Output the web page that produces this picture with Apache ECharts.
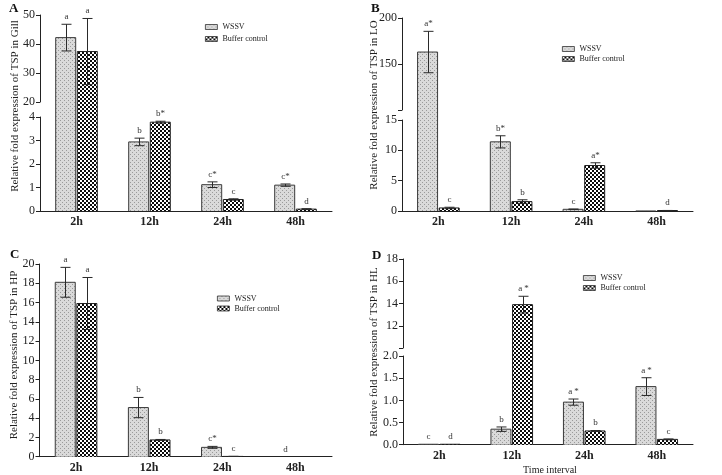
<!DOCTYPE html>
<html><head><meta charset="utf-8">
<script src="https://cdn.jsdelivr.net/npm/echarts@6/dist/echarts.min.js"></script>
<style>html,body{margin:0;padding:0;background:#fff}#c{width:722px;height:475px}</style>
</head><body><div id="c"></div>
<script>
// ---------------- data ----------------
const categories = ['2h', '12h', '24h', '48h'];
const seriesNames = ['WSSV', 'Buffer control'];

// A – Gill
const gillWSSV = [42.2, 2.94, 1.12, 1.10];
const gillWSSVErr = [4.6, 0.16, 0.12, 0.05];
const gillBuffer = [37.4, 3.78, 0.49, 0.08];
const gillBufferErr = [11.4, 0.04, 0.03, 0.02];
const gillWSSVSig = ['a', 'b', 'c*', 'c*'];
const gillBufferSig = ['a', 'b*', 'c', 'd'];

// B – LO
const loWSSV = [163, 11.4, 0.28, 0.01];
const loWSSVErr = [22.5, 1.0, 0.05, 0];
const loBuffer = [0.5, 1.55, 7.5, 0.08];
const loBufferErr = [0.12, 0.3, 0.45, 0.01];
const loWSSVSig = ['a*', 'b*', 'c', ''];
const loBufferSig = ['c', 'b', 'a*', 'd'];

// C – HP
const hpWSSV = [18.1, 5.1, 0.97, 0];
const hpWSSVErr = [1.55, 1.05, 0.1, 0];
const hpBuffer = [15.9, 1.74, 0.03, 0];
const hpBufferErr = [2.7, 0.05, 0.01, 0];
const hpWSSVSig = ['a', 'b', 'c*', 'd'];
const hpBufferSig = ['a', 'b', 'c', ''];

// D – HL
const hlWSSV = [0.01, 0.35, 0.96, 1.31];
const hlWSSVErr = [0, 0.05, 0.07, 0.2];
const hlBuffer = [0.01, 13.9, 0.31, 0.12];
const hlBufferErr = [0, 0.75, 0.01, 0.01];
const hlWSSVSig = ['c', 'b', 'a *', 'a *'];
const hlBufferSig = ['d', 'a *', 'b', 'c'];

// ---------------- style ----------------
const FONT = '"Liberation Serif", "Times New Roman", serif';
const INK = '#222';
const BAR_W = 20, BAR_GAP = 0.08;
const OFF = BAR_W * (1 + BAR_GAP) / 2;
const CAP = 5;

function makePattern(w, h, draw) {
  const c = document.createElement('canvas');
  c.width = w; c.height = h;
  draw(c.getContext('2d'));
  return { image: c, repeat: 'repeat' };
}
const wssvPattern = makePattern(4, 4, ctx => {
  ctx.fillStyle = '#dadada'; ctx.fillRect(0, 0, 4, 4);
  ctx.fillStyle = '#9a9a9a'; ctx.fillRect(0, 0, 1, 1); ctx.fillRect(2, 2, 1, 1);
});
const bufPattern = makePattern(4, 4, ctx => {
  ctx.fillStyle = '#0a0a0a'; ctx.fillRect(0, 0, 4, 4);
  ctx.fillStyle = '#ffffff'; ctx.fillRect(0, 0, 2, 2); ctx.fillRect(2, 2, 2, 2);
});

const option = { animation: false, grid: [], xAxis: [], yAxis: [], series: [], legend: [], graphic: [] };

// outline of the bars (drawn per grid so broken bars stay seamless), error bars and letters
function overlaySeries(g, vals, errs, sigs, off, outline) {
  return {
    type: 'custom', xAxisIndex: g, yAxisIndex: g, z: 5, silent: true,
    data: vals.map((v, i) => [i, v]),
    renderItem: function (params, api) {
      const i = params.dataIndex;
      const v = vals[i], e = errs[i], s = sigs[i];
      const cs = params.coordSys;
      const top = cs.y, bot = cs.y + cs.height;
      const c = api.coord([i, v]);
      const base = api.coord([i, 0])[1];
      const ch = [];
      const os = { stroke: outline, lineWidth: 1 };
      const xl = c[0] + off - BAR_W / 2, xr = xl + BAR_W;
      const a = Math.max(c[1], top), b = Math.min(base, bot);
      if (b > a) {
        ch.push({ type: 'line', shape: { x1: xl, y1: a, x2: xl, y2: b }, style: os });
        ch.push({ type: 'line', shape: { x1: xr, y1: a, x2: xr, y2: b }, style: os });
      }
      if (c[1] < top - 0.5 || c[1] > bot + 0.5) return { type: 'group', children: ch };
      if (v > 0) ch.push({ type: 'line', shape: { x1: xl, y1: c[1], x2: xr, y2: c[1] }, style: os });
      const x = Math.round(c[0] + off) + 0.5;
      const yt = api.coord([i, v + e])[1];
      const yb = api.coord([i, Math.max(v - e, 0)])[1];
      const ls = { stroke: '#2a2a2a', lineWidth: 1 };
      if (e > 0) {
        ch.push({ type: 'line', shape: { x1: x, y1: Math.max(yt, top), x2: x, y2: Math.min(yb, bot) }, style: ls });
        if (yt >= top) ch.push({ type: 'line', shape: { x1: x - CAP, y1: yt, x2: x + CAP, y2: yt }, style: ls });
        if (yb <= bot && v - e > 0) ch.push({ type: 'line', shape: { x1: x - CAP, y1: yb, x2: x + CAP, y2: yb }, style: ls });
      }
      if (s) {
        ch.push({ type: 'text', style: { text: s, x: x, y: Math.min(yt, c[1]) - 3, align: 'center', verticalAlign: 'bottom', font: '9px ' + FONT, fill: '#333' } });
      }
      return { type: 'group', children: ch };
    }
  };
}

function addSeries(g, p) {
  option.series.push({ type: 'bar', name: seriesNames[0], xAxisIndex: g, yAxisIndex: g, data: p.wssv, barWidth: BAR_W, barGap: (BAR_GAP * 100) + '%', itemStyle: { color: wssvPattern, borderColor: '#3a3a3a', borderWidth: 0 }, silent: true });
  option.series.push({ type: 'bar', name: seriesNames[1], xAxisIndex: g, yAxisIndex: g, data: p.buf, barWidth: BAR_W, barGap: (BAR_GAP * 100) + '%', itemStyle: { color: bufPattern, borderColor: '#222', borderWidth: 0 }, silent: true });
  option.series.push(overlaySeries(g, p.wssv, p.wssvErr, p.wssvSig, -OFF, '#3a3a3a'));
  option.series.push(overlaySeries(g, p.buf, p.bufErr, p.bufSig, OFF, '#222'));
}

function addPanel(p) {
  const segs = p.segs;
  segs.forEach((s, k) => {
    const last = k === segs.length - 1;
    const gi = option.grid.length;
    option.grid.push({ left: p.left, top: s.top, width: p.width, height: s.bottom - s.top });
    option.xAxis.push({
      gridIndex: gi, type: 'category', data: categories, show: last,
      axisLine: { lineStyle: { color: INK, width: 1 } }, axisTick: { show: false },
      axisLabel: { fontFamily: FONT, fontSize: 12, fontWeight: 'bold', color: INK, margin: 5 }
    });
    option.yAxis.push({
      gridIndex: gi, type: 'value', min: s.min, max: s.max, interval: s.interval,
      axisLine: { show: true, lineStyle: { color: INK, width: 1 } },
      axisTick: { show: true, length: 4, lineStyle: { color: INK } },
      splitLine: { show: false },
      axisLabel: { fontFamily: FONT, fontSize: 12, color: INK, margin: 5, formatter: s.fmt }
    });
    let bi = gi;
    if (!last) {
      const h = segs[k + 1].top - s.top;
      const bmin = s.max - (s.max - s.min) * h / (s.bottom - s.top);
      bi = option.grid.length;
      option.grid.push({ left: p.left, top: s.top, width: p.width, height: h });
      option.xAxis.push({ gridIndex: bi, type: 'category', data: categories, show: false });
      option.yAxis.push({ gridIndex: bi, type: 'value', min: bmin, max: s.max, show: false, splitLine: { show: false } });
    }
    addSeries(bi, p);
  });
  option.legend.push({
    left: p.legend[0], top: p.legend[1], orient: 'vertical', padding: 0,
    itemWidth: 12, itemHeight: 5, itemGap: p.legend[2], icon: 'rect', selectedMode: false,
    itemStyle: { borderColor: '#333', borderWidth: 0.8 },
    data: seriesNames, textStyle: { fontFamily: FONT, fontSize: 8, color: INK, lineHeight: 10 }
  });
  option.graphic.push({ type: 'text', x: p.name[0], y: p.name[1], rotation: Math.PI / 2, style: { text: p.name[2], align: 'center', verticalAlign: 'middle', font: '11px ' + FONT, fill: INK } });
  option.graphic.push({ type: 'text', x: p.letter[0], y: p.letter[1], style: { text: p.letter[2], font: 'bold 13px ' + FONT, fill: '#111' } });
}

const hideAt = hv => (v => (Math.abs(v - hv) < 1e-9 ? '' : String(v)));

addPanel({
  left: 40, width: 292,
  segs: [
    { top: 15, bottom: 102, min: 20, max: 50, interval: 10 },
    { top: 117, bottom: 211, min: 0, max: 4, interval: 1 }
  ],
  wssv: gillWSSV, wssvErr: gillWSSVErr, wssvSig: gillWSSVSig,
  buf: gillBuffer, bufErr: gillBufferErr, bufSig: gillBufferSig,
  legend: [205, 22, 2], name: [15, 106, 'Relative fold expression of TSP in Gill'], letter: [9, 2, 'A']
});
addPanel({
  left: 402, width: 291,
  segs: [
    { top: 18, bottom: 110, min: 100, max: 200, interval: 50, fmt: hideAt(100) },
    { top: 120, bottom: 211, min: 0, max: 15, interval: 5 }
  ],
  wssv: loWSSV, wssvErr: loWSSVErr, wssvSig: loWSSVSig,
  buf: loBuffer, bufErr: loBufferErr, bufSig: loBufferSig,
  legend: [562, 44, 0], name: [374.5, 105, 'Relative fold expression of TSP in LO'], letter: [371, 2, 'B']
});
addPanel({
  left: 39.5, width: 292.5,
  segs: [
    { top: 264, bottom: 456.7, min: 0, max: 20, interval: 2 }
  ],
  wssv: hpWSSV, wssvErr: hpWSSVErr, wssvSig: hpWSSVSig,
  buf: hpBuffer, bufErr: hpBufferErr, bufSig: hpBufferSig,
  legend: [217, 293.5, 0], name: [14.5, 355, 'Relative fold expression of TSP in HP'], letter: [10, 248, 'C']
});
addPanel({
  left: 403, width: 290,
  segs: [
    { top: 259, bottom: 348, min: 10, max: 18, interval: 2, fmt: hideAt(10) },
    { top: 356, bottom: 444.7, min: 0, max: 2, interval: 0.5, fmt: v => v.toFixed(1) }
  ],
  wssv: hlWSSV, wssvErr: hlWSSVErr, wssvSig: hlWSSVSig,
  buf: hlBuffer, bufErr: hlBufferErr, bufSig: hlBufferSig,
  legend: [583, 273, 0], name: [374.5, 352, 'Relative fold expression of TSP in HL'], letter: [372, 249, 'D']
});
option.graphic.push({ type: 'text', x: 550, y: 470, style: { text: 'Time interval', align: 'center', verticalAlign: 'middle', font: '10px ' + FONT, fill: INK } });

const chart = echarts.init(document.getElementById('c'), null, { renderer: 'canvas' });
chart.setOption(option);
</script>
</body></html>
